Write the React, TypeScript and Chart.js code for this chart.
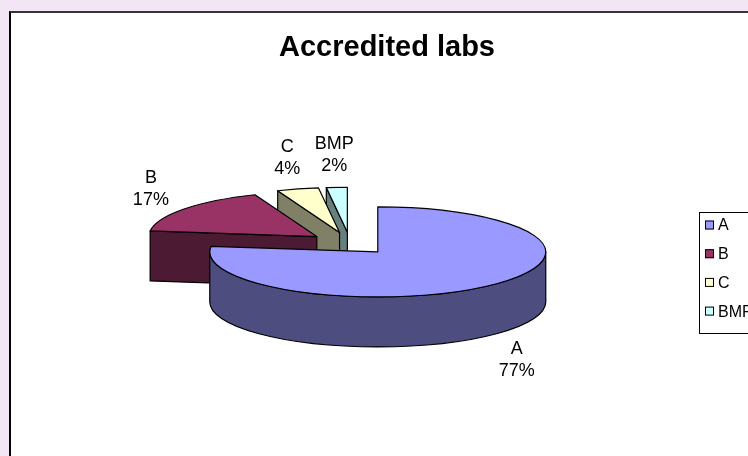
import React, { useEffect, useRef } from 'react';
import { Chart, registerables } from 'chart.js';

Chart.register(...registerables);

const categories = ['A', 'B', 'C', 'BMP'];
const shares = [77, 17, 4, 2];
const topColors = ['#9999FF', '#993366', '#FFFFCC', '#CCFFFF'];
const sideColors = ['#4D4D80', '#4D1A33', '#808066', '#668080'];
const chartTitle = 'Accredited labs';

const FONT = "'Liberation Sans', Arial, sans-serif";
const K = 45 / 168; // vertical squash of the pie
const DEPTH = 50; // extrusion depth in px
const EXPLODE = 42; // explode distance (unsquashed px)
const CX = 350;
const CY = 243.5;

function sliceGeom(chart: any) {
  const meta = chart.getDatasetMeta(0);
  return meta.data.map((arc: any, i: number) => {
    const p = arc.getProps(['x', 'y', 'startAngle', 'endAngle', 'outerRadius'], true);
    const mid = (p.startAngle + p.endAngle) / 2;
    const ox = EXPLODE * Math.cos(mid);
    const oy = EXPLODE * Math.sin(mid);
    return { i, arc, p, mid, ox, oy, cx: CX + ox, cy: CY + K * oy, r: p.outerRadius };
  });
}

function drawWalls(ctx: CanvasRenderingContext2D, s: any) {
  const { cx, cy, r } = s;
  const a0 = s.p.startAngle;
  const a1 = s.p.endAngle;
  const ry = K * r;
  ctx.save();
  ctx.fillStyle = sideColors[s.i];
  ctx.strokeStyle = '#000';
  ctx.lineWidth = 1.2;
  ctx.lineJoin = 'round';
  const radial = (a: number) => {
    const px = cx + r * Math.cos(a);
    const py = cy + ry * Math.sin(a);
    ctx.beginPath();
    ctx.moveTo(cx, cy);
    ctx.lineTo(px, py);
    ctx.lineTo(px, py + DEPTH);
    ctx.lineTo(cx, cy + DEPTH);
    ctx.closePath();
    ctx.fill();
    ctx.stroke();
  };
  if (Math.cos(a0) < -1e-6) radial(a0);
  if (Math.cos(a1) > 1e-6) radial(a1);
  for (let n = -1; n <= 2; n++) {
    const lo = Math.max(a0, 2 * Math.PI * n);
    const hi = Math.min(a1, 2 * Math.PI * n + Math.PI);
    if (hi > lo + 1e-6) {
      ctx.beginPath();
      ctx.ellipse(cx, cy, r, ry, 0, lo, hi);
      ctx.lineTo(cx + r * Math.cos(hi), cy + ry * Math.sin(hi) + DEPTH);
      ctx.ellipse(cx, cy + DEPTH, r, ry, 0, hi, lo, true);
      ctx.closePath();
      ctx.fill();
      ctx.stroke();
    }
  }
  ctx.restore();
}

const pie3d = {
  id: 'pie3d',
  beforeDatasetsDraw(chart: any) {
    const ctx: CanvasRenderingContext2D = chart.ctx;
    const geo = sliceGeom(chart);
    const order = [...geo].sort((a, b) => a.cy - b.cy);
    for (const s of order) drawWalls(ctx, s);
    for (const s of order) {
      ctx.save();
      ctx.setTransform(1, 0, 0, K, CX + s.ox - s.p.x, CY + K * s.oy - K * s.p.y);
      s.arc.draw(ctx);
      ctx.restore();
      ctx.save();
      ctx.strokeStyle = '#000';
      ctx.lineWidth = 1.2;
      ctx.lineJoin = 'round';
      ctx.beginPath();
      ctx.moveTo(s.cx, s.cy);
      ctx.ellipse(s.cx, s.cy, s.r, K * s.r, 0, s.p.startAngle, s.p.endAngle);
      ctx.closePath();
      ctx.stroke();
      ctx.restore();
    }
    return false;
  },
  afterDraw(chart: any) {
    const ctx: CanvasRenderingContext2D = chart.ctx;
    const geo = sliceGeom(chart);
    const data = chart.data.datasets[0].data as number[];
    const total = data.reduce((a, b) => a + b, 0);
    ctx.save();
    ctx.fillStyle = '#000';
    ctx.font = `18px ${FONT}`;
    ctx.textAlign = 'center';
    ctx.textBaseline = 'middle';
    for (const s of geo) {
      const c = Math.cos(s.mid);
      const sn = Math.sin(s.mid);
      const lx = s.cx + 1.25 * s.r * c;
      const ly = s.cy + 1.72 * K * s.r * sn + (sn > 0 ? DEPTH : 0);
      const pct = Math.round((data[s.i] / total) * 100);
      ctx.fillText(String(chart.data.labels[s.i]), lx, ly - 11);
      ctx.fillText(`${pct}%`, lx, ly + 11);
    }
    // legend
    const lx = 699;
    const ly = 212;
    ctx.strokeStyle = '#000';
    ctx.lineWidth = 1;
    ctx.fillStyle = '#fff';
    ctx.fillRect(lx, ly, 70, 121);
    ctx.strokeRect(lx + 0.5, ly + 0.5, 70, 121);
    ctx.font = `16px ${FONT}`;
    ctx.textAlign = 'left';
    (chart.data.labels as string[]).forEach((lab, i) => {
      const y = ly + 13 + i * 28.7;
      ctx.fillStyle = topColors[i];
      ctx.fillRect(lx + 6, y - 4.5, 9, 9);
      ctx.strokeStyle = '#000';
      ctx.strokeRect(lx + 6.5, y - 4, 8, 8);
      ctx.fillStyle = '#000';
      ctx.fillText(lab, lx + 19, y + 1);
    });
    ctx.restore();
  },
};

export default function App() {
  const ref = useRef<HTMLCanvasElement>(null);
  useEffect(() => {
    document.body.style.margin = '0';
    const chart = new Chart(ref.current!, {
      type: 'pie',
      data: {
        labels: categories,
        datasets: [
          {
            data: shares,
            backgroundColor: topColors,
            borderWidth: 0,
            radius: 168,
          } as any,
        ],
      },
      options: {
        responsive: false,
        animation: false,
        devicePixelRatio: 1,
        layout: { padding: { left: 26 } },
        events: [],
        plugins: {
          legend: { display: false },
          tooltip: { enabled: false },
          title: {
            display: true,
            text: chartTitle,
            color: '#000',
            font: { family: FONT, size: 29, weight: 'bold' },
            padding: { top: 31, bottom: 10 },
          },
        },
      },
      plugins: [pie3d as any],
    });
    return () => chart.destroy();
  }, []);
  return (
    <div style={{ position: 'relative', width: 748, height: 456, background: '#F2E6F5', overflow: 'hidden' }}>
      <div
        style={{
          position: 'absolute',
          left: 9,
          top: 11,
          right: -4,
          bottom: -4,
          background: '#fff',
          borderLeft: '2px solid #000',
          borderTop: '2px solid #333',
        }}
      />
      <canvas ref={ref} width={748} height={456} style={{ position: 'absolute', left: 0, top: 0 }} />
    </div>
  );
}
